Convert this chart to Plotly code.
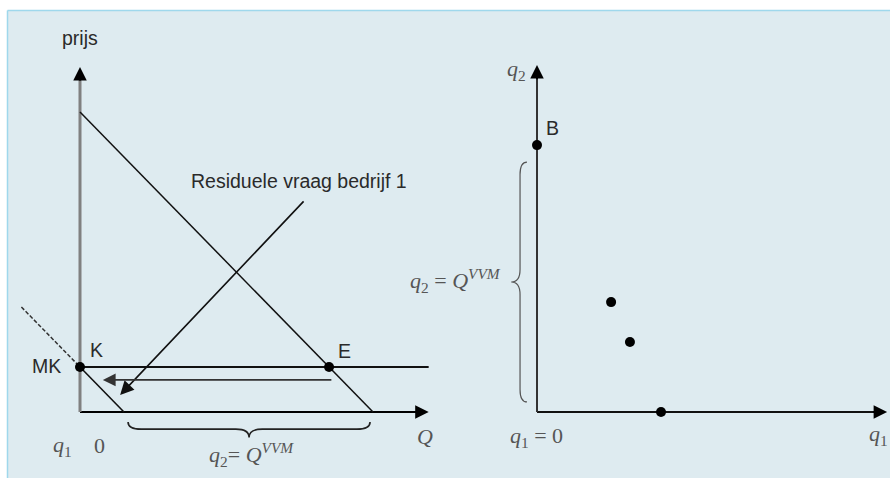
import plotly.graph_objects as go

# ---------------- data (diagram values) ----------------
# Left panel: price (prijs) vs quantity Q
demand_Q = [0, 10]          # market demand: P = 10 - Q
demand_P = [10, 0]
MK = 1.5                    # marginal cost
resid_dash_Q = [-2, 0]      # residual demand firm 1 (dashed part)
resid_dash_P = [3.5, 1.5]
resid_Q = [0, 1.5]          # residual demand firm 1 (solid part)
resid_P = [1.5, 0]
points_left_Q = [0, 8.5]    # K, E
points_left_P = [1.5, 1.5]
point_left_labels = ["K", "E"]
arrow_label_from = (7.68, 7.07)   # "Residuele vraag bedrijf 1" arrow
arrow_label_to = (1.37, 0.57)
arrow_shift_from = (8.63, 1.07)   # horizontal shift arrow
arrow_shift_to = (0.78, 1.07)
left_axis_end = (11.9, 11.5)

# Right panel: q1 vs q2
B_point = (0, 8.5)
points_right_q1 = [0, 2.36, 2.96, 3.95]
points_right_q2 = [8.5, 3.5, 2.23, 0.0]
right_axis_end = (11.15, 11.05)

# ---------------- layout helpers ----------------
W, H = 890, 479
# pixel mapping of the two coordinate systems
oxL, oyL, sxL, syL = 80, 412, 29.3, 30.0
oxR, oyR, sR = 537, 412, 31.4
split = 445

SANS = dict(family="Liberation Sans, Arial, sans-serif", size=19.5, color="#2a2a2a")
SERIF = dict(family="Liberation Serif, Times New Roman, serif", size=22, color="#555555")

fig = go.Figure()

def line(xs, ys, ax, color="black", width=1.6, dash="solid"):
    fig.add_trace(go.Scatter(x=xs, y=ys, mode="lines", xaxis=ax[0], yaxis=ax[1],
                             line=dict(color=color, width=width, dash=dash),
                             hoverinfo="skip", showlegend=False))

L = ("x", "y")
R = ("x2", "y2")

# left axes
line([0, left_axis_end[0] - 0.3], [0, 0], L, "black", 2)
line([0, 0], [0, left_axis_end[1] - 0.3], L, "#808080", 3)
# demand, MK, residual demand
line(demand_Q, demand_P, L, "#111111", 1.5)
line([0, left_axis_end[0]], [MK, MK], L, "#111111", 1.8)
line(resid_dash_Q, resid_dash_P, L, "#333333", 1.5, "4px,2px")
line(resid_Q, resid_P, L, "#111111", 1.6)
fig.add_trace(go.Scatter(x=points_left_Q, y=points_left_P, mode="markers",
                         marker=dict(color="black", size=10), xaxis="x", yaxis="y",
                         hoverinfo="skip", showlegend=False))

# right axes
line([0, right_axis_end[0] - 0.3], [0, 0], R, "#111111", 2)
line([0, 0], [0, right_axis_end[1] - 0.3], R, "#333333", 2)
fig.add_trace(go.Scatter(x=points_right_q1, y=points_right_q2, mode="markers",
                         marker=dict(color="black", size=10), xaxis="x2", yaxis="y2",
                         hoverinfo="skip", showlegend=False))

ann = []
def arrow(head, tail, xr, yr, color="black", width=2, size=1.35):
    ann.append(dict(x=head[0], y=head[1], ax=tail[0], ay=tail[1], xref=xr, yref=yr,
                    axref=xr, ayref=yr, text="", showarrow=True, arrowhead=2,
                    arrowsize=size, arrowwidth=width, arrowcolor=color, standoff=0))

arrow((left_axis_end[0], 0), (left_axis_end[0] - 0.5, 0), "x", "y")
arrow((0, left_axis_end[1]), (0, left_axis_end[1] - 0.5), "x", "y")
arrow((right_axis_end[0], 0), (right_axis_end[0] - 0.5, 0), "x2", "y2")
arrow((0, right_axis_end[1]), (0, right_axis_end[1] - 0.5), "x2", "y2")
arrow(arrow_label_to, arrow_label_from, "x", "y", "#111111", 1.6, 1.7)
arrow(arrow_shift_to, arrow_shift_from, "x", "y", "#333333", 1.6, 1.6)

def text(x, y, t, xr, yr, font):
    ann.append(dict(x=x, y=y, xref=xr, yref=yr, text=t, showarrow=False, font=font,
                    xanchor="center", yanchor="middle"))

text(0, 12.47, "prijs", "x", "y", SANS)
text(7.47, 7.7, "Residuele vraag bedrijf 1", "x", "y", SANS)
text(0.58, 2.07, point_left_labels[0], "x", "y", SANS)
text(9.04, 2.03, point_left_labels[1], "x", "y", SANS)
text(-1.13, 1.53, "MK", "x", "y", SANS)
text(-0.61, -1.13, "<i>q</i><sub>1</sub>", "x", "y", SERIF)
text(0.68, -1.1, "0", "x", "y", SERIF)
text(11.77, -0.83, "<i>Q</i>", "x", "y", SERIF)
text(5.84, -1.43, "<i>q</i><sub>2</sub>= <i>Q</i><sup><i>VVM</i></sup>", "x", "y", SERIF)

text(-0.64, 10.89, "<i>q</i><sub>2</sub>", "x2", "y2", SERIF)
text(0.48, 9.04, "B", "x2", "y2", SANS)
text(-2.58, 4.2, "<i>q</i><sub>2</sub> = <i>Q</i><sup><i>VVM</i></sup>", "x2", "y2", SERIF)
text(-0.03, -0.8, "<i>q</i><sub>1</sub> = 0", "x2", "y2", SERIF)
text(10.89, -0.73, "<i>q</i><sub>1</sub>", "x2", "y2", SERIF)

# braces
def hbrace(x0, x1, yend, yline, ytip, r):
    xm = (x0 + x1) / 2
    return (f"M {x0},{yend} Q {x0},{yline} {x0 + r},{yline} L {xm - r},{yline} "
            f"Q {xm},{yline} {xm},{ytip} Q {xm},{yline} {xm + r},{yline} "
            f"L {x1 - r},{yline} Q {x1},{yline} {x1},{yend}")

def vbrace(y0, y1, xend, xline, xtip, r):
    ym = (y0 + y1) / 2
    return (f"M {xend},{y0} Q {xline},{y0} {xline},{y0 + r} L {xline},{ym - r} "
            f"Q {xline},{ym} {xtip},{ym} Q {xline},{ym} {xline},{ym + r} "
            f"L {xline},{y1 - r} Q {xline},{y1} {xend},{y1}")

shapes = [
    dict(type="rect", xref="paper", yref="paper", x0=7.5 / W, x1=1.05,
         y0=1 / H, y1=1 - 10.5 / H, fillcolor="#deebf0", line=dict(width=0), layer="below"),
    dict(type="line", xref="paper", yref="paper", x0=7.5 / W, x1=1.05,
         y0=1 - 10.5 / H, y1=1 - 10.5 / H, line=dict(color="#9fd8ec", width=1.5), layer="below"),
    dict(type="line", xref="paper", yref="paper", x0=7.5 / W, x1=7.5 / W,
         y0=1 / H, y1=1 - 10.5 / H, line=dict(color="#9fd8ec", width=1.5), layer="below"),
    dict(type="path", xref="x", yref="y",
         path=hbrace(resid_Q[1] + 0.14, demand_Q[1] - 0.1, -0.33, -0.57, -0.85, 0.45),
         line=dict(color="#222222", width=1.6)),
    dict(type="path", xref="x2", yref="y2",
         path=vbrace(0.32, B_point[1] - 0.54, -0.32, -0.54, -0.82, 0.4),
         line=dict(color="#555555", width=1.2)),
]

fig.update_layout(
    width=W, height=H, margin=dict(l=0, r=0, t=0, b=0),
    paper_bgcolor="white", plot_bgcolor="rgba(0,0,0,0)",
    showlegend=False, annotations=ann, shapes=shapes,
    xaxis=dict(domain=[0, split / W], range=[(0 - oxL) / sxL, (split - oxL) / sxL],
               visible=False, fixedrange=True),
    yaxis=dict(domain=[0, 1], range=[(oyL - H) / syL, oyL / syL], visible=False, fixedrange=True),
    xaxis2=dict(domain=[split / W, 1], range=[(split - oxR) / sR, (W - oxR) / sR],
                visible=False, fixedrange=True, anchor="y2"),
    yaxis2=dict(domain=[0, 1], range=[(oyR - H) / sR, oyR / sR], visible=False, fixedrange=True,
                anchor="x2"),
)

fig.write_html("out.html", config=dict(displayModeBar=False),
               post_script="document.body.style.margin='0';document.body.style.overflow='hidden';")
